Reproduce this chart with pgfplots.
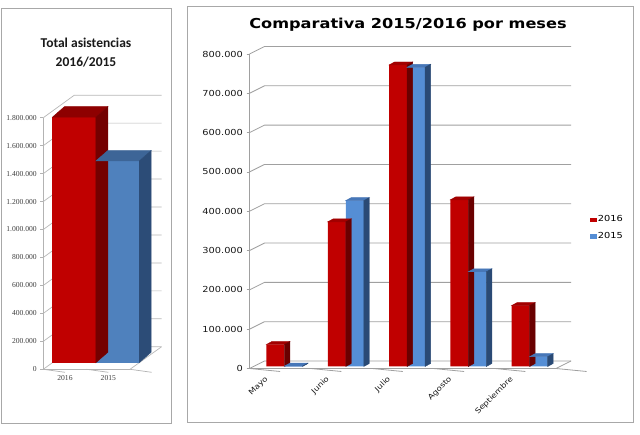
\documentclass[border=0pt]{standalone}
\usepackage{pgfplots}
\pgfplotsset{compat=1.18}
\usepackage{pgfplotstable}
\usepackage{fontspec}
\setmainfont{Liberation Serif}
\newfontfamily\chartsans{DejaVu Sans}[FakeStretch=1.18]
\newfontfamily\titlefont{Carlito}

% colours of the front, top and side faces
\definecolor{redF}{HTML}{C00000}
\definecolor{redT}{HTML}{A20000}
\definecolor{redS}{HTML}{6A0000}
\definecolor{bluF}{HTML}{558ED5}
\definecolor{bluT}{HTML}{4777B8}
\definecolor{bluS}{HTML}{2A4A75}
\definecolor{LredT}{HTML}{8E0000}
\definecolor{LredS}{HTML}{740000}
\definecolor{LbluF}{HTML}{4F81BD}
\definecolor{LbluT}{HTML}{3D6597}
\definecolor{LbluS}{HTML}{2C4C77}
\definecolor{gridc}{HTML}{A0A0A0}
\definecolor{framec}{HTML}{A8A8A8}

% monthly attendance
\pgfplotstableread{
mes a2016  a2015
0   56000  1000
1   368000 422000
2   767000 761000
3   424000 241000
4   155000 25000
}\meses

\pgfdeclareplotmark{nothing}{}
% top and side faces of a bar, drawn at the top-centre of each bar:
% #1 top colour, #2 side colour, #3 half bar width, #4 depth x, #5 depth y,
% #6 axis height / 1000 (point meta is mapped to 0..1000)
\pgfplotsset{
  faces/.style n args={6}{
    scatter, only marks, mark=nothing, forget plot,
    scatter/@pre marker code/.code={%
      \pgfmathsetmacro\barh{\pgfplotspointmetatransformed*#6}%
      \fill[#1] (-#3,0pt) -- (#3,0pt) -- (#3+#4,#5) -- (-#3+#4,#5) -- cycle;
      \fill[#2] (#3,0pt) -- (#3+#4,#5) -- (#3+#4,#5-\barh pt) -- (#3,-\barh pt) -- cycle;
    },
    scatter/@post marker code/.code={},
  },
}

\begin{document}
\begin{tikzpicture}[x=1pt,y=1pt]
\useasboundingbox[fill=white] (0,0) rectangle (640,435);

% panel frames
\draw[framec, line width=1pt] (1.5,11) rectangle (171.5,426);
\draw[framec, line width=1pt] (187,12) rectangle (633,428.5);

% ---------------- total per year ----------------
\node[font=\titlefont\bfseries\fontsize{13.5}{18.5}\selectfont, align=center, text=black!90]
  at (86,382.5) {Total asistencias\\2016/2015};

\begin{axis}[
  at={(43.3pt,65.7pt)}, anchor=south west,
  scale only axis, width=86.7pt, height=251.6pt,
  xmin=-0.5, xmax=1.5, ymin=0, ymax=1800000,
  clip=false,
  axis lines*=left,
  axis line style={gridc!80, line width=0.7pt},
  tick align=outside, major tick length=3pt,
  tick style={gridc!80, line width=0.7pt},
  xtick={0,1}, xticklabels={2016,2015},
  xtick style={draw=none},
  ytick={0,200000,400000,600000,800000,1000000,1200000,1400000,1600000,1800000},
  scaled y ticks=false,
  /pgf/number format/assume math mode=true,
  yticklabel style={/pgf/number format/fixed, /pgf/number format/precision=0,
    /pgf/number format/1000 sep={.}},
  ticklabel style={font=\fontsize{7.6}{9}\selectfont, text=black!75},
  point meta min=0, point meta max=1800000,
]
  % back wall, floor and the ticks between category boundaries
  \pgfplotsinvokeforeach{0,200000,400000,600000,800000,1000000,1200000,1400000,1600000,1800000}{
    \draw[gridc!75, line width=0.7pt] (axis cs:-0.5,#1) -- ++(31pt,22.5pt)
      -- ([shift={(31.5pt,22.5pt)}]axis cs:1.5,#1);
  }
  \draw[gridc!75, line width=0.7pt] (axis cs:1.5,0) -- ++(31.5pt,22.5pt);
  \pgfplotsinvokeforeach{-0.5,0.5,1.5}{
    \draw[gridc!80, line width=0.7pt] (axis cs:#1,0) -- ++(0,-3pt);
  }

  \addplot[faces={LredT}{LredS}{21.7pt}{12pt}{10.5pt}{0.2516},
    xshift=9.2pt, yshift=6.6pt] coordinates {(0,1757000)};
  \addplot[ybar, bar width=43.4pt, bar shift=0pt, fill=redF, draw=none,
    xshift=9.2pt, yshift=6.6pt, forget plot] coordinates {(0,1757000)};
  \addplot[faces={LbluT}{LbluS}{21.7pt}{12pt}{10.5pt}{0.2516},
    xshift=9.2pt, yshift=6.6pt] coordinates {(1,1443000)};
  \addplot[ybar, bar width=43.4pt, bar shift=0pt, fill=LbluF, draw=none,
    xshift=9.2pt, yshift=6.6pt, forget plot] coordinates {(1,1443000)};
\end{axis}

% ---------------- per month ----------------
\node[font=\chartsans\bfseries\fontsize{13.7}{16}\selectfont, text=black]
  at (408,410.5) {Comparativa 2015/2016 por meses};

\begin{axis}[
  at={(249.5pt,66.5pt)}, anchor=south west,
  scale only axis, width=306.5pt, height=314.5pt,
  xmin=-0.5, xmax=4.5, ymin=0, ymax=800000,
  clip=false,
  axis lines*=left,
  axis line style={gridc, line width=0.8pt},
  tick align=outside, major tick length=3pt,
  tick style={gridc, line width=0.8pt},
  xtick={0,1,2,3,4}, xticklabels={Mayo,Junio,Julio,Agosto,Septiembre},
  xtick style={draw=none},
  ytick={0,100000,200000,300000,400000,500000,600000,700000,800000},
  scaled y ticks=false,
  /pgf/number format/assume math mode=true,
  yticklabel style={/pgf/number format/fixed, /pgf/number format/precision=0,
    /pgf/number format/1000 sep={.}},
  ticklabel style={font=\chartsans\fontsize{8.3}{10}\selectfont, text=black!90},
  xticklabel style={font=\chartsans\fontsize{7.3}{9}\selectfont,
    anchor=east, xshift=-11pt, yshift=-4pt, rotate=45},
  point meta min=0, point meta max=800000,
  legend style={draw=none, fill=none, at={(1.11,0.447)}, anchor=west,
    font=\chartsans\fontsize{8.3}{10}\selectfont, row sep=6pt,
    inner sep=0pt, nodes={inner sep=1.5pt}},
  legend cell align=left,
]
  % back wall, floor and the ticks between category boundaries
  \pgfplotsinvokeforeach{0,100000,200000,300000,400000,500000,600000,700000,800000}{
    \draw[gridc, line width=0.8pt] (axis cs:-0.5,#1) -- ++(15pt,7.5pt)
      -- ([shift={(15pt,7.5pt)}]axis cs:4.5,#1);
  }
  \draw[gridc, line width=0.8pt] (axis cs:4.5,0) -- ++(15pt,7.5pt);
  \pgfplotsinvokeforeach{-0.5,0.5,1.5,2.5,3.5,4.5}{
    \draw[gridc, line width=0.8pt] (axis cs:#1,0) -- ++(0,-3pt);
  }

  \addplot[faces={redT}{redS}{9pt}{5.5pt}{3pt}{0.3145},
    xshift=-4.7pt, yshift=2pt] table[x=mes, y=a2016] {\meses};
  \addplot[ybar, bar width=18pt, bar shift=0pt, fill=redF, draw=none,
    xshift=-4.7pt, yshift=2pt, forget plot] table[x=mes, y=a2016] {\meses};
  \addplot[faces={bluT}{bluS}{9pt}{5.5pt}{3pt}{0.3145},
    xshift=13.3pt, yshift=2pt] table[x=mes, y=a2015] {\meses};
  \addplot[ybar, bar width=18pt, bar shift=0pt, fill=bluF, draw=none,
    xshift=13.3pt, yshift=2pt, forget plot] table[x=mes, y=a2015] {\meses};

  \addlegendimage{legend image code/.code={\fill[redF] (0pt,-1.8pt) rectangle (6pt,1.8pt);}}
  \addlegendentry{2016}
  \addlegendimage{legend image code/.code={\fill[bluF] (0pt,-1.8pt) rectangle (6pt,1.8pt);}}
  \addlegendentry{2015}
\end{axis}
\end{tikzpicture}
\end{document}
